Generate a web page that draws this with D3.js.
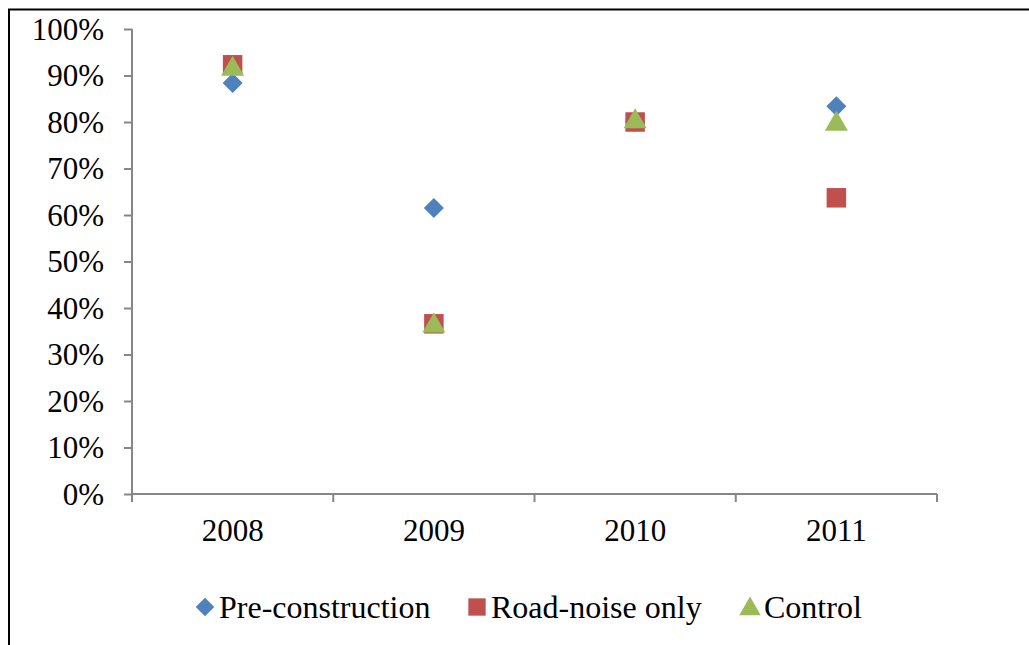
<!DOCTYPE html>
<html>
<head>
<meta charset="utf-8">
<script src="https://cdn.jsdelivr.net/npm/d3@7"></script>
<style>
  body { margin: 0; background: #fff; }
  text { font-family: "Liberation Serif", "Times New Roman", serif; fill: #000; }
</style>
</head>
<body>
<svg id="chart" width="1029" height="645"></svg>
<script>
var years = ["2008", "2009", "2010", "2011"];
var yTicks = [0, 0.1, 0.2, 0.3, 0.4, 0.5, 0.6, 0.7, 0.8, 0.9, 1.0];
var preConstruction = [0.884, 0.615, 0.80, 0.834];
var roadNoiseOnly = [0.923, 0.366, 0.80, 0.637];
var control = [0.918, 0.366, 0.805, 0.80];
var seriesNames = ["Pre-construction", "Road-noise only", "Control"];

var margin = { top: 29, left: 132, right: 92, bottom: 151 };
var svg = d3.select("#chart");
var width = +svg.attr("width");
var height = +svg.attr("height");
var plotWidth = width - margin.left - margin.right;
var plotHeight = height - margin.top - margin.bottom;

// frame around the chart area
svg.append("path")
    .attr("d", "M9,645 V9.5 H1029")
    .attr("fill", "none")
    .attr("stroke", "#000")
    .attr("stroke-width", 2);

var g = svg.append("g")
    .attr("transform", "translate(" + margin.left + "," + margin.top + ")");

var xScale = d3.scaleBand().domain(years).range([0, plotWidth]);
var yScale = d3.scaleLinear().domain([0, 1]).range([plotHeight, 0]);

var axisColor = "#868686";

var yAxis = d3.axisLeft(yScale)
    .tickValues(yTicks)
    .tickSize(8)
    .tickPadding(20)
    .tickFormat(d3.format(".0%"));
var yg = g.append("g").call(yAxis);
yg.select(".domain").attr("stroke", axisColor).attr("stroke-width", 2).attr("d", "M0," + plotHeight + "V0");
yg.selectAll(".tick line").attr("stroke", axisColor).attr("stroke-width", 2);
yg.selectAll(".tick text")
    .style("font-family", "Liberation Serif")
    .style("font-size", "31px")
    .attr("dy", "0.33em");

// x axis with ticks at category boundaries
var xg = g.append("g").attr("transform", "translate(0," + plotHeight + ")");
xg.append("line")
    .attr("x1", 0).attr("x2", plotWidth)
    .attr("stroke", axisColor).attr("stroke-width", 2);
var bounds = years.map(function (y) { return xScale(y); }).concat([plotWidth]);
xg.selectAll(".xtick").data(bounds).enter().append("line")
    .attr("x1", function (d) { return d; }).attr("x2", function (d) { return d; })
    .attr("y1", 0).attr("y2", 8)
    .attr("stroke", axisColor).attr("stroke-width", 2);
xg.selectAll(".xlabel").data(years).enter().append("text")
    .attr("x", function (d) { return xScale(d) + xScale.bandwidth() / 2; })
    .attr("y", 47)
    .attr("text-anchor", "middle")
    .style("font-size", "31px")
    .text(function (d) { return d; });

var colors = ["#4F81BD", "#C0504D", "#9BBB59"];
var shapes = [
    d3.symbol().type(d3.symbolSquare).size(200),
    d3.symbol().type(d3.symbolSquare).size(380),
    d3.symbol().type(d3.symbolTriangle).size(230)
];
var allSeries = [preConstruction, roadNoiseOnly, control];

allSeries.forEach(function (values, i) {
    g.selectAll(".pt" + i).data(values).enter().append("path")
        .attr("d", shapes[i])
        .attr("fill", colors[i])
        .attr("transform", function (d, j) {
            var cx = xScale(years[j]) + xScale.bandwidth() / 2;
            var cy = yScale(d);
            if (i === 0) return "translate(" + cx + "," + cy + ") rotate(45)";
            if (i === 2) return "translate(" + cx + "," + (cy + 2) + ")";
            return "translate(" + cx + "," + cy + ")";
        });
});

// legend
var legendX = [205, 477, 750];
var legendY = 607;
var legend = svg.append("g");
seriesNames.forEach(function (name, i) {
    var item = legend.append("g").attr("transform", "translate(" + legendX[i] + "," + legendY + ")");
    var sym = i === 0 ? d3.symbol().type(d3.symbolSquare).size(170)
        : i === 1 ? d3.symbol().type(d3.symbolSquare).size(300)
        : d3.symbol().type(d3.symbolTriangle).size(200);
    item.append("path")
        .attr("d", sym)
        .attr("fill", colors[i])
        .attr("transform", i === 0 ? "rotate(45)" : (i === 2 ? "translate(0,2)" : null));
    item.append("text")
        .attr("x", 14)
        .attr("y", 11)
        .style("font-size", "32px")
        .text(name);
});
</script>
</body>
</html>
